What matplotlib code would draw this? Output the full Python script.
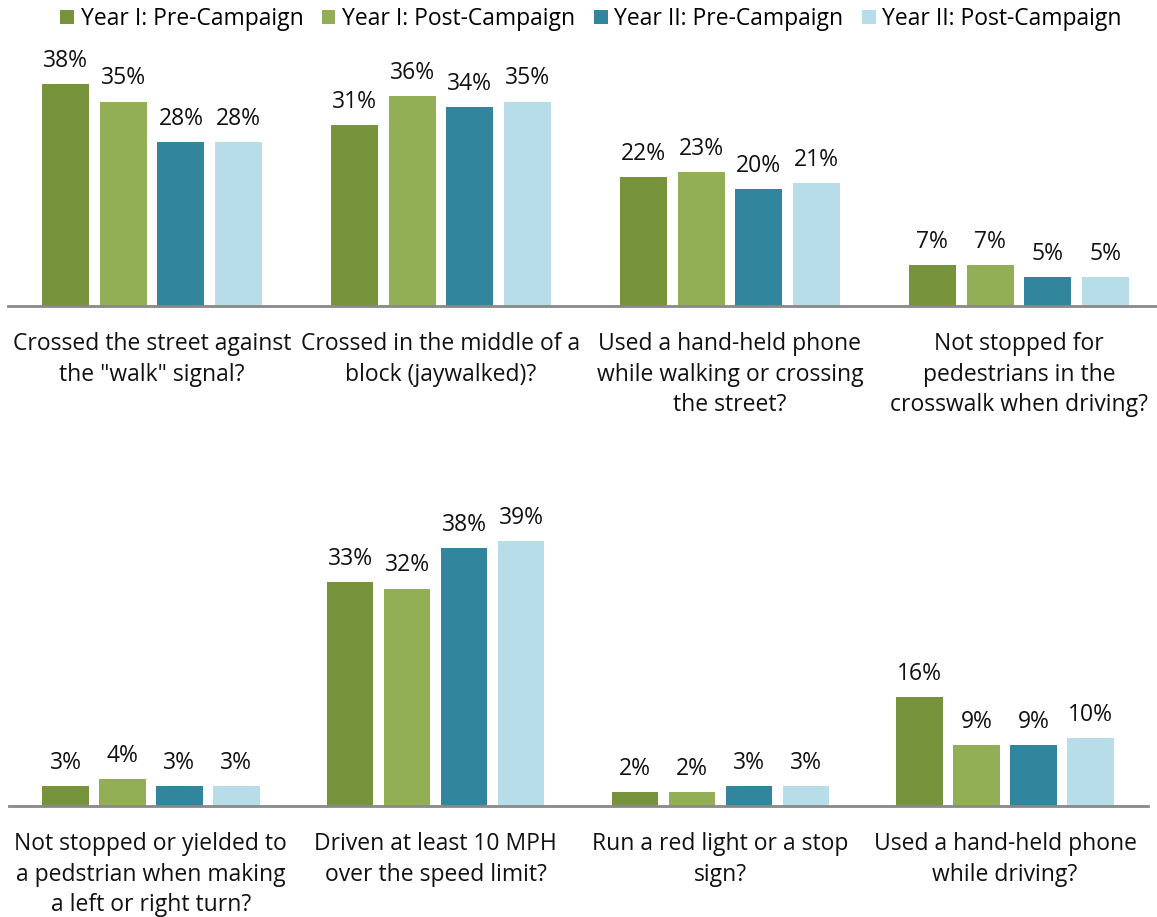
import numpy as np
import matplotlib.pyplot as plt
from matplotlib.patches import Patch

plt.rcParams['font.family'] = ['Open Sans', 'DejaVu Sans']

series = ['Year I: Pre-Campaign', 'Year I: Post-Campaign',
          'Year II: Pre-Campaign', 'Year II: Post-Campaign']
colors = ['#77933C', '#92AF55', '#31859C', '#B7DEE8']

top_labels = ['Crossed the street against\nthe "walk" signal?',
              'Crossed in the middle of a\nblock (jaywalked)?',
              'Used a hand-held phone\nwhile walking or crossing\nthe street?',
              'Not stopped for\npedestrians in the\ncrosswalk when driving?']
top_values = [[38, 31, 22, 7],
              [35, 36, 23, 7],
              [28, 34, 20, 5],
              [28, 35, 21, 5]]

bottom_labels = ['Not stopped or yielded to\na pedstrian when making\na left or right turn?',
                 'Driven at least 10 MPH\nover the speed limit?',
                 'Run a red light or a stop\nsign?',
                 'Used a hand-held phone\nwhile driving?']
bottom_values = [[3, 33, 2, 16],
                 [4, 32, 2, 9],
                 [3, 38, 3, 9],
                 [3, 39, 3, 10]]

W, H = 1157, 917
FS = 16.5
fig = plt.figure(figsize=(W / 100, H / 100), dpi=100)


def add_panel(rect, labels, values, ymax):
    ax = fig.add_axes(rect)
    x = np.arange(len(labels))
    width = 0.163
    for i, vals in enumerate(values):
        pos = x + (i - 1.5) * 0.2
        bars = ax.bar(pos, vals, width, color=colors[i], label=series[i])
        for b, v in zip(bars, vals):
            ax.annotate(f'{v}%', (b.get_x() + b.get_width() / 2, v),
                        xytext=(0, 8), textcoords='offset points',
                        ha='center', va='bottom', fontsize=FS, color='#111111')
    ax.set_xlim(-0.5, len(labels) - 0.5)
    ax.set_ylim(0, ymax)
    ax.set_yticks([])
    ax.set_xticks(x)
    ax.set_xticklabels(labels, fontsize=FS, linespacing=1.36, color='#111111')
    ax.tick_params(axis='x', length=0, pad=19)
    for s in ['top', 'right', 'left']:
        ax.spines[s].set_visible(False)
    ax.spines['bottom'].set_color('#898989')
    ax.spines['bottom'].set_linewidth(2)
    return ax


# top panel: baseline at y=306, 38% reaches y=84
top_h = 40 * (306 - 84) / 38
add_panel([7.5 / W, 1 - 306 / H, 1156 / W, top_h / H], top_labels, top_values, 40)

# bottom panel: baseline at y=806, 39% reaches y=541
bot_h = 45 * (806 - 541) / 39
add_panel([8.5 / W, 1 - 806 / H, 1139 / W, bot_h / H], bottom_labels, bottom_values, 45)

handles = [Patch(facecolor=c, label=s) for c, s in zip(colors, series)]
fig.legend(handles=handles, loc='center', bbox_to_anchor=(591 / W, 1 - 19 / H),
           ncol=4, frameon=False, fontsize=FS, handlelength=0.6,
           handleheight=0.6, handletextpad=0.3, columnspacing=0.8)

fig.savefig('out.png', dpi=100)
